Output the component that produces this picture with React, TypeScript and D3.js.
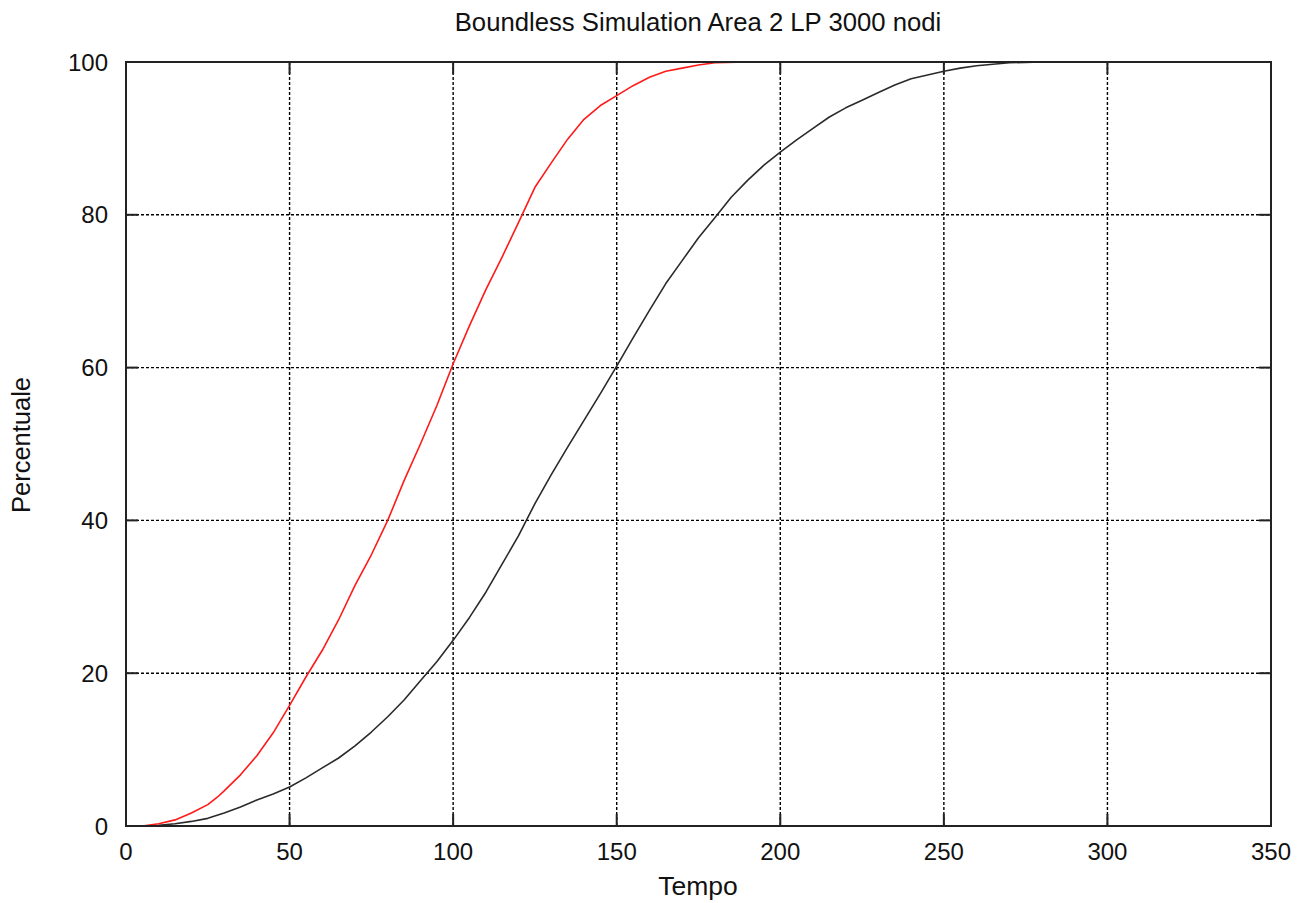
import React from "react";
import * as d3 from "d3";

// Simulation results: percentage of reached nodes over time
const redTime = [5, 10, 15, 20, 25, 28, 30, 35, 40, 45, 50, 55, 60, 65, 70, 75, 80, 85, 90, 95, 100, 105, 110, 115, 120, 125, 130, 135, 140, 145, 150, 155, 160, 165, 170, 175, 180, 190, 200, 207];
const redPct = [0, 0.3, 0.8, 1.7, 2.8, 3.8, 4.6, 6.7, 9.2, 12.2, 15.8, 19.5, 23.0, 27.0, 31.5, 35.5, 40.0, 45.2, 50.0, 55.0, 60.5, 65.5, 70.2, 74.5, 79.0, 83.6, 86.8, 89.9, 92.5, 94.3, 95.6, 96.9, 98.0, 98.8, 99.2, 99.6, 99.9, 100, 100, 100];

const blackTime = [5, 10, 15, 20, 25, 30, 35, 40, 45, 50, 55, 60, 65, 70, 75, 80, 85, 90, 95, 100, 105, 110, 115, 120, 125, 130, 135, 140, 145, 150, 155, 160, 165, 170, 175, 180, 185, 190, 195, 200, 205, 210, 215, 220, 225, 230, 235, 240, 245, 250, 255, 260, 265, 270, 280, 300, 350];
const blackPct = [0, 0.1, 0.3, 0.6, 1.0, 1.7, 2.5, 3.4, 4.2, 5.1, 6.3, 7.6, 8.9, 10.5, 12.3, 14.3, 16.5, 19.0, 21.5, 24.3, 27.3, 30.6, 34.3, 38.0, 42.2, 46.0, 49.6, 53.1, 56.6, 60.2, 63.9, 67.5, 71.0, 74.0, 77.0, 79.6, 82.3, 84.5, 86.5, 88.2, 89.8, 91.3, 92.8, 94.0, 95.0, 96.0, 97.0, 97.8, 98.3, 98.8, 99.2, 99.5, 99.7, 99.9, 100, 100, 100];

const xTicks = [0, 50, 100, 150, 200, 250, 300, 350];
const yTicks = [0, 20, 40, 60, 80, 100];

const title = "Boundless Simulation Area 2 LP 3000 nodi";
const xLabel = "Tempo";
const yLabel = "Percentuale";

const W = 1308;
const H = 903;
const left = 126;
const right = 1271;
const top = 62;
const bottom = 826;
const font = "'Liberation Sans', Arial, sans-serif";

export default function App() {
  const x = d3.scaleLinear().domain([0, 350]).range([left, right]);
  const y = d3.scaleLinear().domain([0, 100]).range([bottom, top]);

  const line = d3
    .line<[number, number]>()
    .x((d) => x(d[0]))
    .y((d) => y(d[1]));

  const redPath = line(redTime.map((t, i) => [t, redPct[i]] as [number, number])) || "";
  const blackPath = line(blackTime.map((t, i) => [t, blackPct[i]] as [number, number])) || "";

  const tickLen = 12;
  const gridColor = "#000";
  const frameColor = "#222";

  return (
    <div style={{ position: "fixed", left: 0, top: 0 }}>
      <svg width={W} height={H} style={{ display: "block", background: "#fff" }}>
        {/* grid */}
        {xTicks
          .filter((t) => t > 0 && t < 350)
          .map((t) => (
            <line key={"gx" + t} x1={x(t)} x2={x(t)} y1={top} y2={bottom} stroke={gridColor} strokeWidth={1.4} strokeDasharray="3,2" />
          ))}
        {yTicks
          .filter((t) => t > 0 && t < 100)
          .map((t) => (
            <line key={"gy" + t} x1={left} x2={right} y1={y(t)} y2={y(t)} stroke={gridColor} strokeWidth={1.4} strokeDasharray="3,2" />
          ))}

        {/* tick marks on all four sides */}
        {xTicks.map((t) => (
          <g key={"tx" + t}>
            <line x1={x(t)} x2={x(t)} y1={bottom} y2={bottom - tickLen} stroke={frameColor} strokeWidth={2} />
            <line x1={x(t)} x2={x(t)} y1={top} y2={top + tickLen} stroke={frameColor} strokeWidth={2} />
          </g>
        ))}
        {yTicks.map((t) => (
          <g key={"ty" + t}>
            <line x1={left} x2={left + tickLen} y1={y(t)} y2={y(t)} stroke={frameColor} strokeWidth={2} />
            <line x1={right} x2={right - tickLen} y1={y(t)} y2={y(t)} stroke={frameColor} strokeWidth={2} />
          </g>
        ))}

        {/* data */}
        <path d={blackPath} fill="none" stroke="#2a2a2a" strokeWidth={1.6} strokeLinejoin="round" />
        <path d={redPath} fill="none" stroke="#ff1a1a" strokeWidth={1.6} strokeLinejoin="round" />

        {/* frame */}
        <rect x={left} y={top} width={right - left} height={bottom - top} fill="none" stroke={frameColor} strokeWidth={2} />

        {/* tick labels */}
        {xTicks.map((t) => (
          <text key={"lx" + t} x={x(t)} y={860} textAnchor="middle" fontFamily={font} fontSize={24} fill="#111">
            {t}
          </text>
        ))}
        {yTicks.map((t) => (
          <text key={"ly" + t} x={108} y={y(t) + 8.5} textAnchor="end" fontFamily={font} fontSize={24} fill="#111">
            {t}
          </text>
        ))}

        {/* titles */}
        <text x={698} y={31} textAnchor="middle" fontFamily={font} fontSize={25.7} fill="#111">
          {title}
        </text>
        <text x={698} y={895} textAnchor="middle" fontFamily={font} fontSize={26.5} fill="#111">
          {xLabel}
        </text>
        <text
          transform={`translate(30, 445) rotate(-90)`}
          textAnchor="middle"
          fontFamily={font}
          fontSize={25.5}
          fill="#111"
        >
          {yLabel}
        </text>
      </svg>
    </div>
  );
}
